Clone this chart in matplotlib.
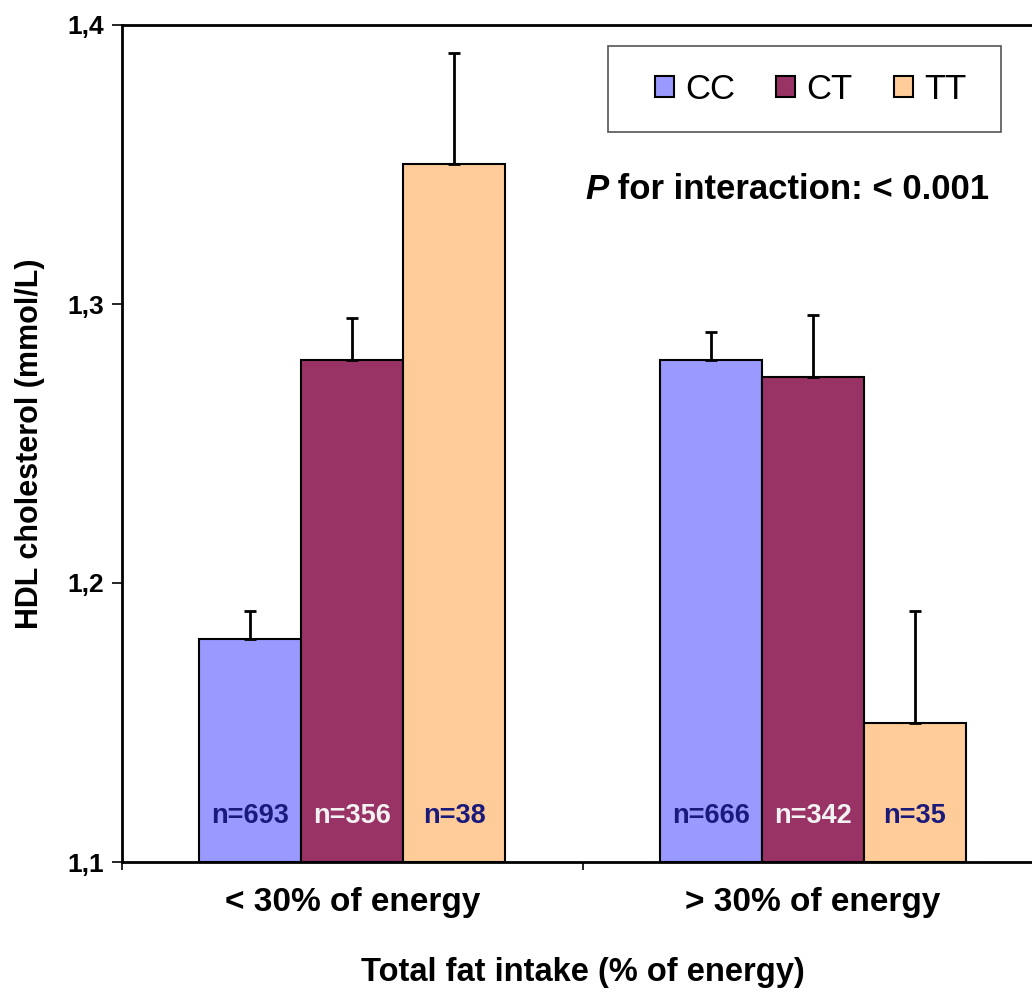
import numpy             as np
import matplotlib
matplotlib.use("Agg")
import matplotlib.pyplot as plt
from matplotlib.patches import Rectangle

plt.rcParams['font.family'] = ['Liberation Sans', 'DejaVu Sans']

# ========== \Data ========== #
GROUPS    = ["< 30% of energy", "> 30% of energy"]
GENOTYPES = ["CC", "CT", "TT"]
COLORS    = ["#9999FF", "#993366", "#FFCC99"]

MEANS = {
    "CC": [1.180, 1.280],
    "CT": [1.280, 1.274],
    "TT": [1.350, 1.150],
}
ERRORS = {
    "CC": [0.010, 0.010],
    "CT": [0.015, 0.022],
    "TT": [0.040, 0.040],
}
COUNTS = {
    "CC": ["n=693", "n=666"],
    "CT": ["n=356", "n=342"],
    "TT": ["n=38",  "n=35"],
}
COUNT_COLORS = {"CC": "#1a1a7a", "CT": "#f2f2f2", "TT": "#1a1a7a"}

Y_TICKS  = [1.1, 1.2, 1.3, 1.4]
Y_LABELS = ["1,1", "1,2", "1,3", "1,4"]
# ========== /Data ========== #

def main():
    fig = plt.figure(figsize=(10.32, 9.92), dpi=100)
    # axes run past the right edge of the figure
    ax = fig.add_axes([122 / 1032, 1 - 862 / 992, 921 / 1032, 837 / 992])

    x     = np.arange(len(GROUPS))
    width = 0.2215

    for i, g in enumerate(GENOTYPES):
        pos  = x + (i - 1) * width
        errs = np.array(ERRORS[g])
        ax.bar(pos, np.array(MEANS[g]) - 1.1, width, bottom=1.1,
               color=COLORS[i], edgecolor="black", linewidth=1.5,
               label=g, zorder=2)
        ax.errorbar(pos, MEANS[g], yerr=[np.zeros_like(errs), errs],
                    fmt="none", ecolor="black", elinewidth=2,
                    capsize=4.5, capthick=2, zorder=3)
        for p, txt in zip(pos, COUNTS[g]):
            ax.text(p, 1.1165, txt, ha="center", va="center",
                    fontsize=19.5, fontweight="bold",
                    color=COUNT_COLORS[g], zorder=4)

    ax.set_xlim(-0.5, 1.5)
    ax.set_ylim(1.1, 1.4)

    # category labels at centres, ticks at the boundaries
    ax.set_xticks([-0.5, 0.5, 1.5])
    ax.set_xticklabels([])
    ax.set_xticks(x, minor=True)
    ax.set_xticklabels(GROUPS, minor=True, fontsize=24, fontweight="bold")
    ax.tick_params(axis="x", which="minor", length=0, pad=18)
    ax.tick_params(axis="x", which="major", direction="out", length=6, width=1.2)

    ax.set_yticks(Y_TICKS)
    ax.set_yticklabels(Y_LABELS, fontsize=19, fontweight="bold")
    ax.tick_params(axis="y", direction="out", length=7, width=1.2, pad=6)

    for side in ["left", "bottom", "top"]:
        ax.spines[side].set_linewidth(2)
    ax.spines["right"].set_visible(False)

    ax.set_xlabel("Total fat intake (% of energy)", fontsize=23.5,
                  fontweight="bold", labelpad=28)
    ax.set_ylabel("HDL cholesterol (mmol/L)", fontsize=22,
                  fontweight="bold", labelpad=16)

    # legend box drawn by hand, entries placed inside it
    ax.add_patch(Rectangle((0.528, 0.872), 0.426, 0.103, transform=ax.transAxes,
                           facecolor="white", edgecolor="#555555",
                           linewidth=1.2, zorder=5))
    leg = ax.legend(loc="center", bbox_to_anchor=(0.7476, 0.9235),
                    ncol=3, fontsize=25, frameon=False,
                    handlelength=0.55, handleheight=0.55, handletextpad=0.33,
                    columnspacing=1.18, borderpad=0, borderaxespad=0)
    leg.set_zorder(6)
    for h in leg.legend_handles:
        h.set_linewidth(1.5)

    # P value note: italic P followed by the rest of the sentence
    tp = ax.text(0.503, 0.803, "P", transform=ax.transAxes,
                 fontsize=25, fontweight="bold", fontstyle="italic",
                 ha="left", va="center")
    ax.annotate(" for interaction: < 0.001", xy=(1, 0), xycoords=tp,
                fontsize=25, fontweight="bold", ha="left", va="bottom")

    fig.savefig("out.png", dpi=100)

if __name__ == '__main__': main()
